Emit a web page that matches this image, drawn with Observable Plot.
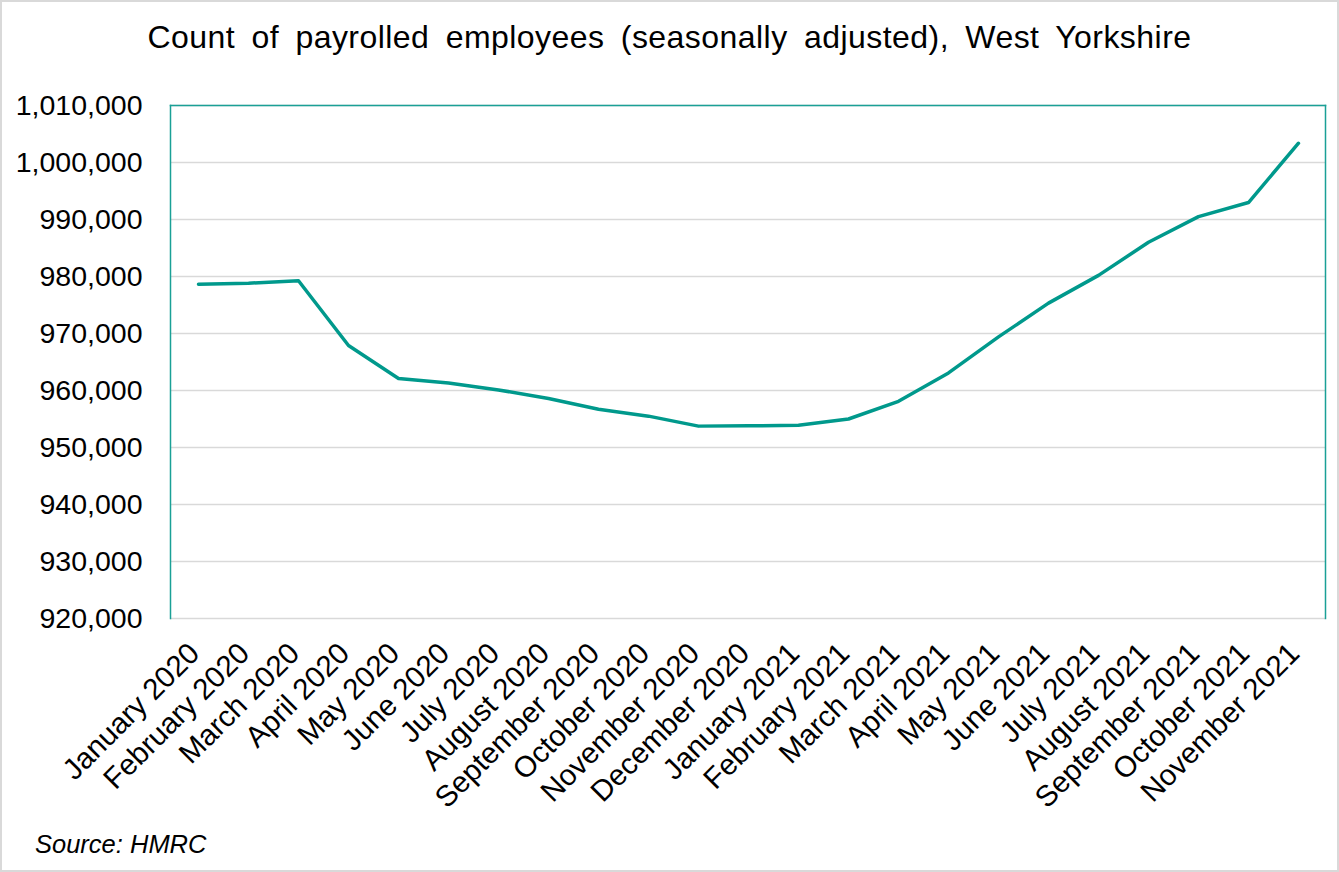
<!DOCTYPE html>
<html><head><meta charset="utf-8">
<script src="https://cdn.jsdelivr.net/npm/d3@7"></script>
<script src="https://cdn.jsdelivr.net/npm/@observablehq/plot@0.6"></script>
<style>
body{margin:0;background:#fff;}
#wrap{position:relative;width:1339px;height:872px;font-family:"Liberation Sans",Arial,sans-serif;overflow:hidden;}
#border{position:absolute;left:0;top:0;width:1339px;height:872px;box-sizing:border-box;border:2px solid #d9d9d9;pointer-events:none;}
#title{position:absolute;left:0;top:21px;width:1339px;text-align:center;font-size:32px;line-height:32px;word-spacing:7px;letter-spacing:0.45px;color:#000;white-space:nowrap;}
#chart{position:absolute;left:0;top:80px;}
#source{position:absolute;left:35px;top:830px;font-size:25.5px;font-style:italic;color:#000;}
</style>
</head><body>
<div id="wrap">
  <div id="title">Count of payrolled employees (seasonally adjusted), West Yorkshire</div>
  <div id="chart"></div>
  <div id="source">Source: HMRC</div>
  <div id="border"></div>
</div>
<script>
const months = ["January 2020","February 2020","March 2020","April 2020","May 2020","June 2020","July 2020","August 2020","September 2020","October 2020","November 2020","December 2020","January 2021","February 2021","March 2021","April 2021","May 2021","June 2021","July 2021","August 2021","September 2021","October 2021","November 2021"];
const employees = [978650,978830,979250,967900,962100,961330,960100,958600,956700,955500,953750,953800,953900,955000,958100,963080,969400,975330,980200,986000,990500,992980,1003380];
const yTicks = [920000,930000,940000,950000,960000,970000,980000,990000,1000000,1010000];

const data = months.map((m, i) => ({month: m, value: employees[i]}));
const teal = "#1aa096";
const chart = Plot.plot({
  width: 1339,
  height: 750,
  marginLeft: 170,
  marginRight: 14,
  marginTop: 25,
  marginBottom: 212,
  style: {fontFamily: "'Liberation Sans', Arial, sans-serif", fontSize: "28px", color: "#000", background: "transparent", overflow: "visible"},
  x: {type: "point", domain: months, padding: 0.5, label: null},
  y: {domain: [920000, 1010000], label: null},
  marks: [
    Plot.gridY(yTicks, {stroke: "#d9d9d9", strokeOpacity: 1, strokeWidth: 1.5}),
    Plot.frame({anchor: "left", stroke: teal, strokeWidth: 1.5}),
    Plot.frame({anchor: "right", stroke: teal, strokeWidth: 1.5}),
    Plot.frame({anchor: "top", stroke: teal, strokeWidth: 1.5}),
    Plot.axisY(yTicks, {tickSize: 0, tickPadding: 28, tickFormat: d3.format(","), fontSize: 28.5, label: null}),
    Plot.axisX({tickSize: 0, tickRotate: -45, tickPadding: 10, dx: -4, dy: 20, fontSize: 29.5, label: null}),
    Plot.line(data, {x: "month", y: "value", stroke: "#00998c", strokeWidth: 3.5})
  ]
});
document.getElementById("chart").appendChild(chart);
</script>
</body></html>
